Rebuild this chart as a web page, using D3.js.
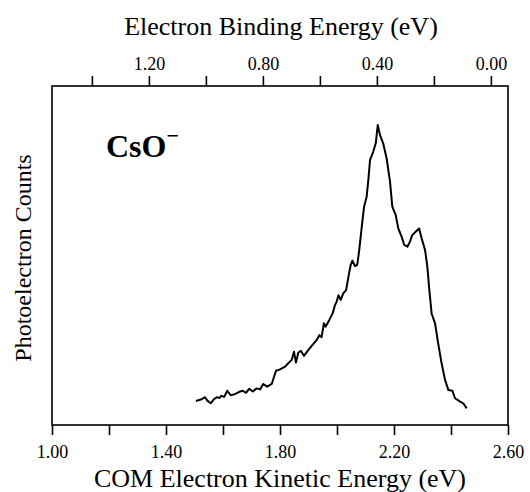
<!DOCTYPE html>
<html>
<head>
<meta charset="utf-8">
<script src="https://cdn.jsdelivr.net/npm/d3@7"></script>
<style>
  body { margin: 0; background: #fff; }
  svg { display: block; font-family: "Liberation Serif", "Times New Roman", serif; }
</style>
</head>
<body>
<svg id="chart" width="530" height="492"></svg>
<script>
// ---- data ----
const kineticEnergy = [1.505,1.525,1.537,1.545,1.557,1.568,1.578,1.587,1.595,1.604,1.615,1.627,1.642,1.657,1.669,1.681,1.692,1.704,1.718,1.730,1.741,1.755,1.771,1.786,1.800,1.818,1.829,1.841,1.849,1.856,1.864,1.873,1.884,1.899,1.917,1.929,1.938,1.946,1.954,1.960,1.973,1.985,1.993,1.999,2.005,2.013,2.022,2.032,2.040,2.048,2.054,2.063,2.071,2.078,2.087,2.095,2.104,2.110,2.116,2.127,2.136,2.143,2.151,2.162,2.174,2.186,2.194,2.206,2.215,2.227,2.236,2.247,2.256,2.264,2.276,2.288,2.297,2.309,2.317,2.324,2.332,2.344,2.355,2.367,2.379,2.391,2.405,2.414,2.432,2.443,2.455];
const counts = [7.1,7.6,8.2,7.2,6.4,7.6,8.2,8.0,8.6,8.3,10.1,8.8,9.1,9.8,10.1,9.5,10.7,9.9,10.8,10.5,12.1,11.3,12.1,16.0,16.4,17.2,18.2,19.2,21.6,18.4,21.3,21.9,20.4,22.1,23.9,25.1,26.5,25.9,30.0,29.0,31.0,33.0,35.4,36.4,38.3,36.9,38.8,39.8,43.7,47.2,48.5,46.9,47.2,51.6,58.5,64.4,67.3,72.3,78.2,80.6,83.1,88.5,85.5,83.1,78.7,71.8,64.4,61.9,58.0,55.5,53.1,52.6,54.1,56.0,57.0,58.0,55.1,51.6,46.7,39.8,32.9,30.0,24.1,18.2,13.3,10.3,10.1,7.9,6.9,6.4,4.9];

const photonEnergy = 2.54;
const bottomTicks = [1.0,1.2,1.4,1.6,1.8,2.0,2.2,2.4,2.6];
const bottomTickLabels = {"1":"1.00","1.4":"1.40","1.8":"1.80","2.2":"2.20","2.6":"2.60"};
const topTicks = [1.4,1.2,1.0,0.8,0.6,0.4,0.2,0.0];
const topTickLabels = {"1.2":"1.20","0.8":"0.80","0.4":"0.40","0":"0.00"};

const titleTop = "Electron Binding Energy (eV)";
const titleBottom = "COM Electron Kinetic Energy (eV)";
const titleLeft = "Photoelectron Counts";
const speciesLabel = "CsO";

// ---- layout ----
const L = 52, R = 508, T = 86, B = 425;
const svg = d3.select("#chart");

const x = d3.scaleLinear().domain([1.0, 2.6]).range([L, R]);
const xb = d3.scaleLinear().domain([photonEnergy - 1.0, photonEnergy - 2.6]).range([L, R]);
const y = d3.scaleLinear().domain([0, 100]).range([B, T]);

// bottom axis
const gb = svg.append("g").attr("transform", `translate(0,${B})`)
  .call(d3.axisBottom(x).tickValues(bottomTicks).tickSize(10)
    .tickFormat(d => bottomTickLabels[String(+d.toFixed(2))] || ""));
gb.select(".domain").remove();
gb.selectAll(".tick line").attr("stroke", "#000").attr("stroke-width", 1.6);
gb.selectAll(".tick text").attr("y", 33).attr("dy", 0)
  .attr("font-size", 18).attr("font-family", "Liberation Serif").attr("fill", "#000");

// top axis
const gt = svg.append("g").attr("transform", `translate(0,${T})`)
  .call(d3.axisTop(xb).tickValues(topTicks).tickSize(10)
    .tickFormat(d => topTickLabels[String(+d.toFixed(2))] || ""));
gt.select(".domain").remove();
gt.selectAll(".tick line").attr("stroke", "#000").attr("stroke-width", 1.6);
gt.selectAll(".tick text").attr("y", -16).attr("dy", 0)
  .attr("font-size", 18).attr("font-family", "Liberation Serif").attr("fill", "#000");

// frame
svg.append("rect").attr("x", L).attr("y", T).attr("width", R - L).attr("height", B - T)
  .attr("fill", "none").attr("stroke", "#000").attr("stroke-width", 1.6);

// spectrum
const pts = kineticEnergy.map((k, i) => [k, counts[i]]);
svg.append("path").datum(pts)
  .attr("fill", "none").attr("stroke", "#000").attr("stroke-width", 2)
  .attr("stroke-linejoin", "round")
  .attr("d", d3.line().x(d => x(d[0])).y(d => y(d[1])));

// titles
svg.append("text").attr("x", 281).attr("y", 35).attr("text-anchor", "middle")
  .attr("font-size", 26).text(titleTop);
svg.append("text").attr("x", 280).attr("y", 487).attr("text-anchor", "middle")
  .attr("font-size", 26).text(titleBottom);
svg.append("text").attr("transform", "translate(31,258) rotate(-90)")
  .attr("text-anchor", "middle").attr("font-size", 24).text(titleLeft);

// species label
const sp = svg.append("text").attr("x", 106).attr("y", 157)
  .attr("font-size", 32).attr("font-weight", "bold").text(speciesLabel);
sp.append("tspan").attr("dy", -14).attr("font-size", 22).text("\u2212");
</script>
</body>
</html>
